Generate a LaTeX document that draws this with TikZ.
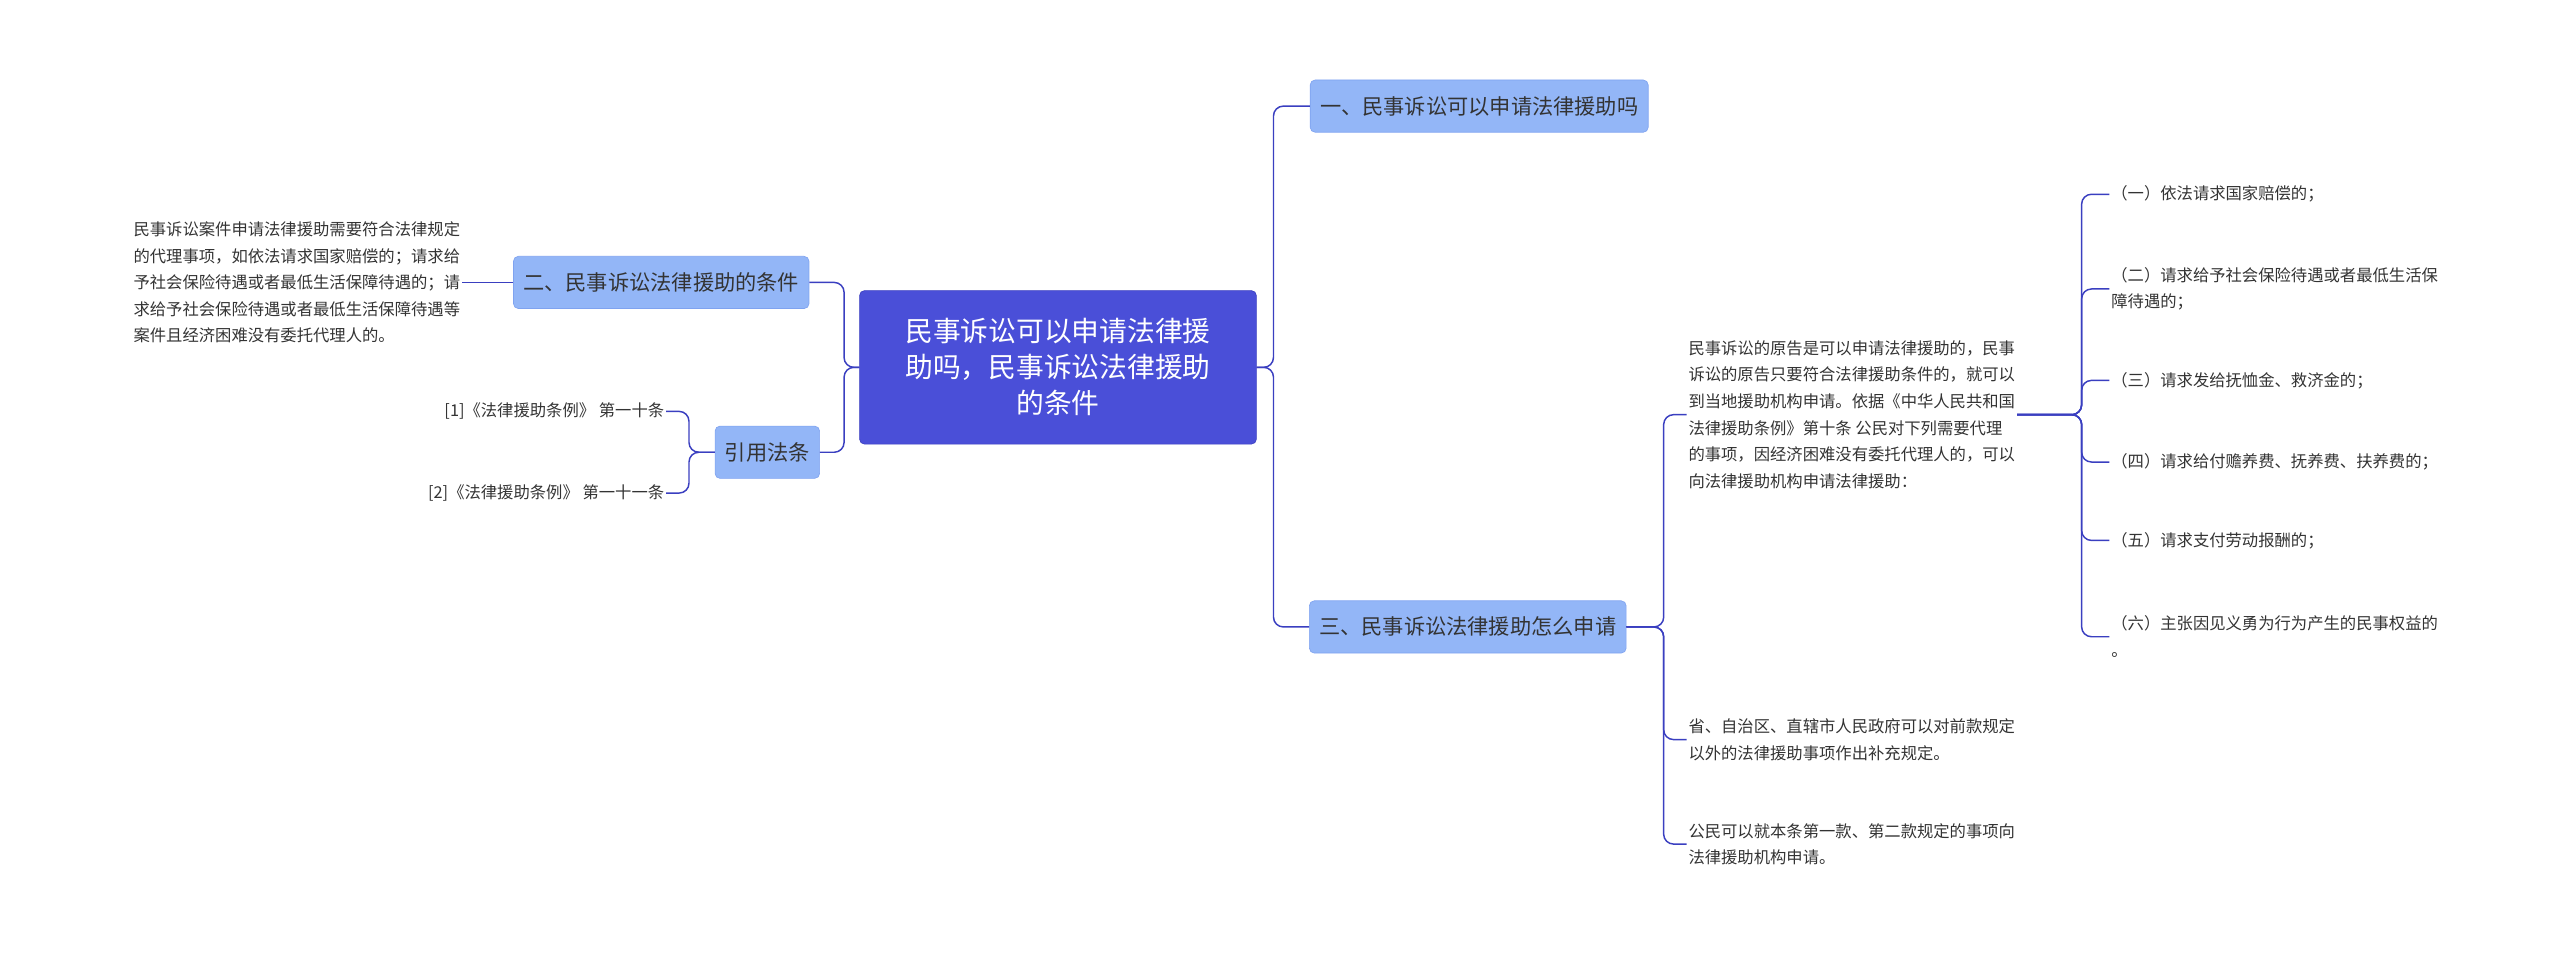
\documentclass[tikz,border=0pt]{standalone}
\usepackage{fontspec}
\setmainfont{Noto Sans CJK SC}
\definecolor{rootc}{HTML}{4A4FD8}
\definecolor{rootb}{HTML}{3B3FC0}
\definecolor{brc}{HTML}{93B6F7}
\definecolor{brb}{HTML}{7FA3F0}
\definecolor{linec}{HTML}{3A3FC0}
\definecolor{txt}{HTML}{333333}
\tikzset{
 rootbox/.style={fill=rootc,draw=rootb,rounded corners=3pt,text=white,font=\fontsize{17}{22}\selectfont,align=center,minimum width=243pt,minimum height=94pt,inner sep=2pt},
 brbox/.style={fill=brc,draw=brb,rounded corners=3pt,text=txt,font=\fontsize{13}{16}\selectfont,minimum height=32pt,inner xsep=6pt},
 leaf/.style={text=txt,font=\fontsize{10}{16.3}\selectfont,align=left,inner sep=1pt},
 conn/.style={draw=linec,line width=0.9pt,rounded corners=6pt},
}
\begin{document}
\begin{tikzpicture}[x=1pt,y=-1pt]
\useasboundingbox (0,0) rectangle (1568,585);
\node[rootbox] (root) at (648,225) {民事诉讼可以申请法律援\\助吗，民事诉讼法律援助\\的条件};
\node[brbox] (b1) at (906,65) {一、民事诉讼可以申请法律援助吗};
\node[brbox] (b3) at (899,384) {三、民事诉讼法律援助怎么申请};
\node[brbox] (l1) at (405,173) {二、民事诉讼法律援助的条件};
\node[brbox] (l2) at (470,277) {引用法条};
\node[leaf,anchor=east] (lt) at (283,173) {民事诉讼案件申请法律援助需要符合法律规定\\的代理事项，如依法请求国家赔偿的；请求给\\予社会保险待遇或者最低生活保障待遇的；请\\求给予社会保险待遇或者最低生活保障待遇等\\案件且经济困难没有委托代理人的。};
\node[leaf,anchor=east] (r1) at (408,252) {[1]《法律援助条例》 第一十条};
\node[leaf,anchor=east] (r2) at (408,302) {[2]《法律援助条例》 第一十一条};
\node[leaf,anchor=west] (t1) at (1033,254) {民事诉讼的原告是可以申请法律援助的，民事\\诉讼的原告只要符合法律援助条件的，就可以\\到当地援助机构申请。依据《中华人民共和国\\法律援助条例》第十条 公民对下列需要代理\\的事项，因经济困难没有委托代理人的，可以\\向法律援助机构申请法律援助：};
\node[leaf,anchor=west] (t2) at (1033,453) {省、自治区、直辖市人民政府可以对前款规定\\以外的法律援助事项作出补充规定。};
\node[leaf,anchor=west] (t3) at (1033,517) {公民可以就本条第一款、第二款规定的事项向\\法律援助机构申请。};
\node[leaf,anchor=west] (i1) at (1292,119) {（一）依法请求国家赔偿的；};
\node[leaf,anchor=west] (i2) at (1292,177) {（二）请求给予社会保险待遇或者最低生活保\\障待遇的；};
\node[leaf,anchor=west] (i3) at (1292,233) {（三）请求发给抚恤金、救济金的；};
\node[leaf,anchor=west] (i4) at (1292,283) {（四）请求给付赡养费、抚养费、扶养费的；};
\node[leaf,anchor=west] (i5) at (1292,331) {（五）请求支付劳动报酬的；};
\node[leaf,anchor=west] (i6) at (1292,390) {（六）主张因见义勇为行为产生的民事权益的\\。};
% connectors
\foreach \c in {b1,b3}{\draw[conn] (root.east) -- (780,225) |- (\c.west);}
\foreach \c in {l1,l2}{\draw[conn] (root.west) -- (517,225) |- (\c.east);}
\draw[conn] (l1.west) -- (lt.east);
\foreach \c in {r1,r2}{\draw[conn] (l2.west) -- (422,277) |- (\c.east);}
\foreach \c in {t1,t2,t3}{\draw[conn] (b3.east) -- (1019,384) |- (\c.west);}
\foreach \c in {i1,i2,i3,i4,i5,i6}{\draw[conn] (t1.east) -- (1275,254) |- (\c.west);}
\end{tikzpicture}
\end{document}
